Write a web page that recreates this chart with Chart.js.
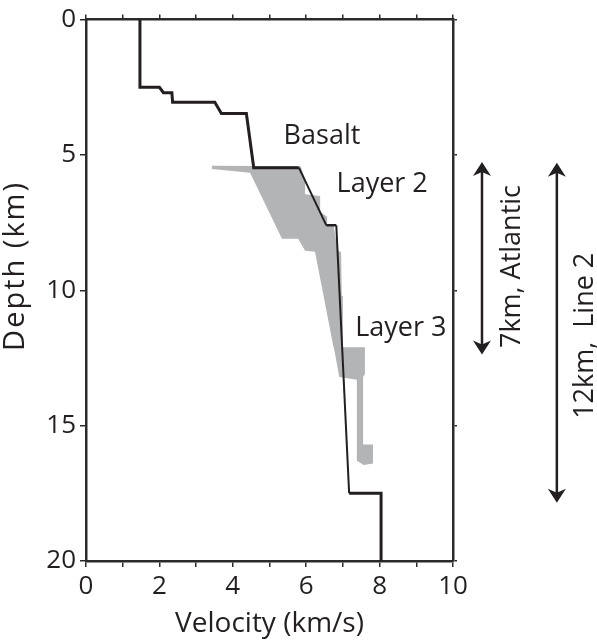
<!DOCTYPE html>
<html><head><meta charset="utf-8">
<script src="https://cdn.jsdelivr.net/npm/chart.js@4/dist/chart.umd.min.js"></script>
<style>html,body{margin:0;padding:0;background:#fff}</style>
</head><body>
<canvas id="c" width="597" height="643"></canvas>
<script>
// Velocity profile (black line)
const profileVelocity = [1.47,1.47,2.0,2.11,2.34,2.36,3.51,3.69,4.37,4.57,5.8,6.55,6.82,7.17,8.04,8.04];
const profileDepth    = [0,2.5,2.5,2.7,2.7,3.05,3.05,3.47,3.47,5.47,5.47,7.6,7.6,17.5,17.5,20];
// Grey envelope (outline of shaded region)
const rangeVelocity = [3.43,5.85,5.97,5.97,6.38,6.38,6.57,6.57,6.75,6.85,6.95,6.97,7.0,7.0,7.6,7.6,7.55,7.55,7.82,7.82,7.57,7.38,7.38,6.9,6.78,6.73,6.24,5.97,5.78,5.34,4.47,3.43];
const rangeDepth    = [5.40,5.42,5.9,6.45,6.52,7.1,7.28,7.58,7.62,8.5,8.6,10.2,10.2,12.1,12.1,13.1,13.2,15.7,15.7,16.4,16.45,16.3,13.3,13.2,12.3,12.0,8.58,8.54,8.1,8.1,5.66,5.52];
const xTicks = [0,2,4,6,8,10];
const yTicks = [0,5,10,15,20];
const layerLabels = ['Basalt','Layer 2','Layer 3'];
const layerLabelVelocity = [6.43,8.07,8.58];
const layerLabelDepth = [4.31,6.09,11.39];
const bracketLabels = ['7km, Atlantic','12km,  Line 2'];
const bracketVelocity = [10.79,12.83];
const bracketTop = [5.26,5.29];
const bracketBottom = [12.37,17.85];
const bracketLabelVelocity = [11.61,13.6];
const bracketLabelDepth = [9.12,11.68];

const INK = '#231f20';
const AX = '#2b2b2b';
const FONT = "'Open Sans', sans-serif";

const annot = {
  id: 'annot',
  afterDraw(chart) {
    const ctx = chart.ctx, xs = chart.scales.x, ys = chart.scales.y;
    ctx.save();
    ctx.fillStyle = INK;
    ctx.font = '27px ' + FONT;
    ctx.textAlign = 'center';
    ctx.textBaseline = 'middle';
    layerLabels.forEach((t,i)=>{
      ctx.fillText(t, xs.getPixelForValue(layerLabelVelocity[i]), ys.getPixelForValue(layerLabelDepth[i]));
    });
    // Depth title
    ctx.save();
    ctx.font = '29px ' + FONT;
    ctx.translate(16, ys.getPixelForValue(9.1));
    ctx.rotate(-Math.PI/2);
    try { ctx.letterSpacing = '2px'; } catch(e) {}
    ctx.fillText('Depth (km)', 0, 0);
    ctx.restore();
    // brackets
    bracketLabels.forEach((t,i)=>{
      const x = xs.getPixelForValue(bracketVelocity[i]);
      const y1 = ys.getPixelForValue(bracketTop[i]);
      const y2 = ys.getPixelForValue(bracketBottom[i]);
      ctx.strokeStyle = INK; ctx.lineWidth = 2.5;
      ctx.beginPath(); ctx.moveTo(x, y1+8); ctx.lineTo(x, y2-8); ctx.stroke();
      const head = (tip, dir) => {
        ctx.beginPath();
        ctx.moveTo(x, tip);
        ctx.lineTo(x-9, tip+dir*14);
        ctx.lineTo(x, tip+dir*10);
        ctx.lineTo(x+9, tip+dir*14);
        ctx.closePath(); ctx.fill();
      };
      head(y1, 1); head(y2, -1);
      ctx.save();
      ctx.translate(xs.getPixelForValue(bracketLabelVelocity[i]), ys.getPixelForValue(bracketLabelDepth[i]));
      ctx.rotate(-Math.PI/2);
      ctx.fillText(t, 0, 0);
      ctx.restore();
    });
    ctx.restore();
  }
};

const pts = (xv, yv) => xv.map((v,i)=>({x:v, y:yv[i]}));
const thin = new Set([10,12]);

new Chart(document.getElementById('c'), {
  type: 'scatter',
  data: {
    datasets: [
      {
        data: pts(profileVelocity, profileDepth),
        showLine: true, borderColor: INK, borderWidth: 3, pointRadius: 0,
        borderJoinStyle: 'miter', fill: false, order: 0,
        segment: { borderWidth: c => thin.has(c.p0DataIndex) ? 2 : (c.p0DataIndex===11 ? 2.5 : 3) }
      },
      {
        data: pts(rangeVelocity, rangeDepth),
        showLine: true, borderWidth: 0, borderColor: 'rgba(0,0,0,0)', pointRadius: 0,
        backgroundColor: '#b3b4b6', fill: 'shape', order: 1
      }
    ]
  },
  options: {
    responsive: false, animation: false, devicePixelRatio: 1,
    layout: { padding: { left: 0, right: 140, top: 0, bottom: 0 } },
    plugins: { legend: { display: false }, tooltip: { enabled: false } },
    scales: {
      x: {
        type: 'linear', position: 'bottom', min: 0, max: 10,
        afterBuildTicks: s => { s.ticks = [0,1,2,3,4,5,6,7,8,9,10].map(v=>({value:v})); },
        ticks: { autoSkip: false, maxRotation: 0, color: INK, font: { family: FONT, size: 26 }, padding: 4,
                 callback: v => xTicks.includes(v) ? String(v) : '' },
        grid: { drawOnChartArea: false, tickLength: 6, color: AX, lineWidth: 1.5 },
        border: { color: AX, width: 2.5 },
        title: { display: true, text: 'Velocity (km/s)', color: INK, font: { family: FONT, size: 28 }, padding: { top: 0, bottom: 2 } },
        afterFit: s => { s.height = 82; }
      },
      x2: {
        type: 'linear', position: 'top', min: 0, max: 10,
        afterBuildTicks: s => { s.ticks = [0,1,2,3,4,5,6,7,8,9,10].map(v=>({value:v})); },
        ticks: { display: false },
        grid: { drawOnChartArea: false, tickLength: 5, color: AX, lineWidth: 1.5 },
        border: { color: AX, width: 2.5 },
        afterFit: s => { s.height = 13; }
      },
      y: {
        type: 'linear', position: 'left', reverse: true, min: 0, max: 20,
        afterBuildTicks: s => { s.ticks = yTicks.map(v=>({value:v})); },
        ticks: { color: INK, font: { family: FONT, size: 26 }, padding: 4 },
        grid: { drawOnChartArea: false, tickLength: 6, color: AX, lineWidth: 1.5 },
        border: { color: AX, width: 2.5 },
        afterFit: s => { s.width = 86; }
      },
      y2: {
        type: 'linear', position: 'right', reverse: true, min: 0, max: 20,
        afterBuildTicks: s => { s.ticks = yTicks.map(v=>({value:v})); },
        ticks: { display: false },
        grid: { drawOnChartArea: false, tickLength: 4, color: AX, lineWidth: 1.5 },
        border: { color: AX, width: 2.5 },
        afterFit: s => { s.width = 4; }
      }
    }
  },
  plugins: [annot]
});
</script>
</body></html>
